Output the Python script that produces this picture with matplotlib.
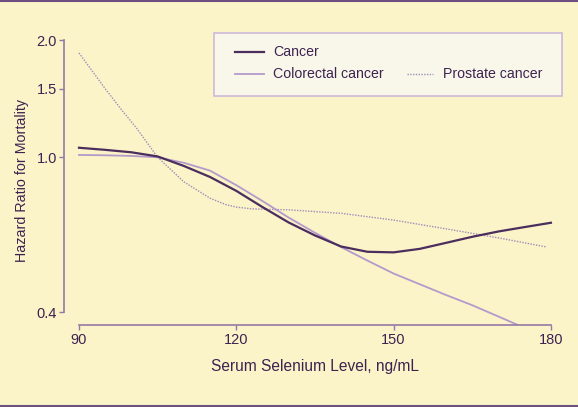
#Hazard ratio vs serum selenium, recreated
import matplotlib
matplotlib.use("Agg")
import matplotlib.pyplot as plt
from matplotlib.lines import Line2D
from matplotlib.patches import Rectangle

W, H = 578, 407

# values
cancer_x = [90, 95, 100, 105, 110, 115, 120, 125, 130, 135, 140, 145, 150, 155, 160, 165, 170, 175, 180]
cancer_y = [1.058, 1.045, 1.03, 1.005, 0.95, 0.89, 0.82, 0.745, 0.68, 0.63, 0.59, 0.572, 0.570,
            0.582, 0.603, 0.625, 0.645, 0.662, 0.679]

colorectal_x = [90, 95, 100, 105, 110, 115, 120, 125, 130, 135, 140, 145, 150, 155, 160, 165, 170, 173.7]
colorectal_y = [1.014, 1.012, 1.008, 1.0, 0.968, 0.924, 0.848, 0.772, 0.70, 0.64, 0.588, 0.543, 0.503,
                0.472, 0.443, 0.417, 0.39, 0.371]

prostate_x = [90, 95, 98, 101, 105, 110, 115, 118, 120, 123, 130, 140, 150, 160, 170, 179]
prostate_y = [1.853, 1.50, 1.33, 1.187, 1.0, 0.865, 0.785, 0.756, 0.745, 0.737, 0.733, 0.718, 0.69,
              0.655, 0.621, 0.589]

xticks = [90, 120, 150, 180]
yticks = [0.4, 1.0, 1.5, 2.0]
ytick_labels = ["0.4", "1.0", "1.5", "2.0"]

bg = "#fbf4c9"
txt = "#3c2350"
axis_col = "#9479a6"
leg_fs = 10.2

plt.rcParams["font.family"] = ["Liberation Sans", "DejaVu Sans"]

fig = plt.figure(figsize=(W / 100, H / 100), dpi=100, facecolor=bg)

def fx(p):
    return p / W

def fy(p):
    return 1 - p / H

# axes box in pixels: left 64.3, right 565.6, top 31.8, bottom 325
ax = fig.add_axes([fx(64.3), fy(325), fx(565.6) - fx(64.3), fy(31.8) - fy(325)])
ax.set_facecolor(bg)
ax.set_yscale("log")
ax.set_xlim(87.2, 182.8)
ax.set_ylim(0.371, 2.1)

ax.plot(prostate_x, prostate_y, color="#a08cb8", lw=1.0, ls=(0, (1, 1)))
ax.plot(colorectal_x, colorectal_y, color="#b49acb", lw=1.3)
ax.plot(cancer_x, cancer_y, color="#4b2d5e", lw=1.6)

for s in ["top", "right"]:
    ax.spines[s].set_visible(False)
for s in ["left", "bottom"]:
    ax.spines[s].set_color(axis_col)
    ax.spines[s].set_linewidth(1.2)
ax.spines["bottom"].set_bounds(90, 180)
ax.spines["left"].set_bounds(0.4, 2.0)

ax.set_xticks(xticks)
ax.set_xticklabels([str(t) for t in xticks])
ax.set_yticks(yticks)
ax.set_yticklabels(ytick_labels)
ax.minorticks_off()
ax.tick_params(axis="both", colors=axis_col, labelcolor=txt, length=3.6, width=1.0, labelsize=10.5)
ax.tick_params(axis="x", pad=2.5)
ax.tick_params(axis="y", pad=1.8)

fig.text(fx(315), fy(367), "Serum Selenium Level, ng/mL", ha="center", va="center",
         color=txt, fontsize=11.2)
fig.text(fx(22), fy(180), "Hazard Ratio for Mortality", ha="center", va="center",
         rotation=90, color=txt, fontsize=10.3)

# legend box
fig.add_artist(Rectangle((fx(214.3), fy(95.7)), fx(562.3) - fx(214.3), fy(33) - fy(95.7),
                         transform=fig.transFigure, facecolor="#f9f7ea", edgecolor="#cdb9d9", lw=1.2))
fig.add_artist(Line2D([fx(235), fx(264)], [fy(52.3), fy(52.3)], transform=fig.transFigure,
                      color="#4b2d5e", lw=1.6))
fig.text(fx(273.3), fy(52.3), "Cancer", ha="left", va="center", color=txt, fontsize=leg_fs)
fig.add_artist(Line2D([fx(235), fx(264)], [fy(74), fy(74)], transform=fig.transFigure,
                      color="#b49acb", lw=1.3))
fig.text(fx(273.3), fy(74), "Colorectal cancer", ha="left", va="center", color=txt, fontsize=leg_fs)
fig.add_artist(Line2D([fx(406.7), fx(433)], [fy(74), fy(74)], transform=fig.transFigure,
                      color="#a08cb8", lw=1.0, ls=(0, (1, 1))))
fig.text(fx(443), fy(74), "Prostate cancer", ha="left", va="center", color=txt, fontsize=leg_fs)

# purple frame lines top and bottom
fig.add_artist(Line2D([0, 1], [fy(1), fy(1)], transform=fig.transFigure, color="#6d4f80", lw=1.5))
fig.add_artist(Line2D([0, 1], [fy(405.5), fy(405.5)], transform=fig.transFigure, color="#6d4f80", lw=1.5))

fig.savefig("out.png", dpi=100, facecolor=bg)
